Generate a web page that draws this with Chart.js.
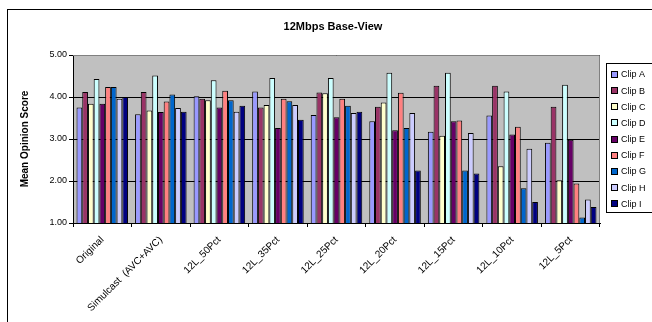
<!DOCTYPE html>
<html>
<head>
<meta charset="utf-8">
<script src="https://cdn.jsdelivr.net/npm/chart.js@4/dist/chart.umd.min.js"></script>
<style>
  html, body { margin: 0; padding: 0; background: #fff; }
  #wrap { position: relative; width: 652px; height: 322px; }
  canvas { display: block; }
</style>
</head>
<body>
<div id="wrap"><canvas id="mos" width="652" height="322"></canvas></div>
<script>
// Test conditions along the x axis
const categories = ['Original', 'Simulcast  (AVC+AVC)', '12L_50Pct', '12L_35Pct', '12L_25Pct',
                    '12L_20Pct', '12L_15Pct', '12L_10Pct', '12L_5Pct'];

// Mean opinion scores per clip, one value per test condition
const clipA = [3.75, 3.59, 4.02, 4.13, 3.57, 3.42, 3.17, 3.56, 2.91];
const clipB = [4.12, 4.12, 3.96, 3.75, 4.11, 3.77, 4.27, 4.27, 3.77];
const clipC = [3.84, 3.68, 3.92, 3.81, 4.09, 3.87, 3.08, 2.35, 2.02];
const clipD = [4.43, 4.51, 4.40, 4.45, 4.45, 4.58, 4.58, 4.13, 4.29];
const clipE = [3.84, 3.64, 3.75, 3.26, 3.52, 3.21, 3.42, 3.11, 2.98];
const clipF = [4.24, 3.89, 4.15, 3.96, 3.96, 4.10, 3.44, 3.29, 1.94];
const clipG = [4.24, 4.06, 3.92, 3.90, 3.79, 3.26, 2.25, 1.83, 1.13];
const clipH = [3.96, 3.74, 3.65, 3.81, 3.62, 3.62, 3.14, 2.77, 1.56];
const clipI = [4.00, 3.65, 3.79, 3.46, 3.65, 2.25, 2.18, 1.50, 1.38];

const clipNames = ['Clip A', 'Clip B', 'Clip C', 'Clip D', 'Clip E', 'Clip F', 'Clip G', 'Clip H', 'Clip I'];
const clipColors = ['#9999FF', '#993366', '#FFFFCC', '#CCFFFF', '#660066', '#FF8080', '#0066CC', '#CCCCFF', '#000080'];
const clipSeries = [clipA, clipB, clipC, clipD, clipE, clipF, clipG, clipH, clipI];

const yTicks = [1, 2, 3, 4, 5];

const FONT = '"Liberation Sans", Arial, sans-serif';

// Frame, plot background, titles and boxed legend
const decorations = {
  id: 'decorations',
  beforeDraw(chart) {
    const { ctx, chartArea: a } = chart;
    ctx.save();
    ctx.fillStyle = '#C0C0C0';
    ctx.fillRect(a.left, a.top, a.right - a.left, a.bottom - a.top);
    ctx.restore();
  },
  afterDraw(chart) {
    const { ctx, chartArea: a } = chart;
    ctx.save();
    // plot area outline
    ctx.strokeStyle = '#808080';
    ctx.lineWidth = 1;
    ctx.beginPath();
    ctx.moveTo(a.left, a.top + 0.5);
    ctx.lineTo(a.right - 0.5, a.top + 0.5);
    ctx.lineTo(a.right - 0.5, a.bottom);
    ctx.stroke();

    // outer chart frame
    ctx.strokeStyle = '#000';
    ctx.strokeRect(7.5, 9.5, 700, 400);

    // chart title
    ctx.fillStyle = '#000';
    ctx.font = 'bold 11px ' + FONT;
    ctx.textAlign = 'center';
    ctx.textBaseline = 'middle';
    ctx.fillText('12Mbps Base-View', 333, 27);

    // y axis title
    ctx.save();
    ctx.translate(25, 139);
    ctx.rotate(-Math.PI / 2);
    ctx.font = 'bold 10px ' + FONT;
    ctx.fillText('Mean Opinion Score', 0, 0);
    ctx.restore();

    // legend
    const lx = 606.5, ly = 63.5, lw = 50, lh = 149;
    ctx.fillStyle = '#fff';
    ctx.fillRect(lx, ly, lw, lh);
    ctx.strokeStyle = '#000';
    ctx.strokeRect(lx, ly, lw, lh);
    ctx.font = '9px ' + FONT;
    ctx.textAlign = 'left';
    ctx.textBaseline = 'middle';
    chart.data.datasets.forEach((ds, i) => {
      const cy = 75 + i * 16.15;
      ctx.fillStyle = ds.backgroundColor;
      ctx.fillRect(611.5, Math.round(cy) - 3.5, 6, 6);
      ctx.strokeStyle = '#000';
      ctx.strokeRect(611.5, Math.round(cy) - 3.5, 6, 6);
      ctx.fillStyle = '#000';
      ctx.fillText(ds.label, 621, cy);
    });
    ctx.restore();
  }
};

new Chart(document.getElementById('mos'), {
  type: 'bar',
  data: {
    labels: categories,
    datasets: clipSeries.map((vals, i) => ({
      label: clipNames[i],
      data: vals,
      backgroundColor: clipColors[i],
      borderColor: '#000',
      borderWidth: 1,
      categoryPercentage: 0.88,
      barPercentage: 1.0
    }))
  },
  options: {
    responsive: false,
    animation: false,
    events: [],
    layout: { padding: { top: 55, right: 52, left: 0, bottom: 0 } },
    plugins: {
      legend: { display: false },
      title: { display: false },
      tooltip: { enabled: false }
    },
    scales: {
      x: {
        offset: true,
        grid: { drawOnChartArea: false, color: '#000', tickLength: 4, offset: true },
        border: { color: '#000' },
        ticks: {
          autoSkip: false,
          maxRotation: 45,
          minRotation: 45,
          color: '#000',
          font: { family: FONT, size: 10 },
          padding: 7
        },
        afterFit(scale) { scale.height = 99; }
      },
      y: {
        min: 1,
        max: 5,
        afterBuildTicks(scale) { scale.ticks = yTicks.map(v => ({ value: v })); },
        grid: { color: '#000', tickLength: 4 },
        border: { color: '#000' },
        ticks: {
          color: '#000',
          font: { family: FONT, size: 9 },
          padding: 2,
          callback: v => Number(v).toFixed(2)
        },
        afterFit(scale) { scale.width = 73; }
      }
    }
  },
  plugins: [decorations]
});
</script>
</body>
</html>
